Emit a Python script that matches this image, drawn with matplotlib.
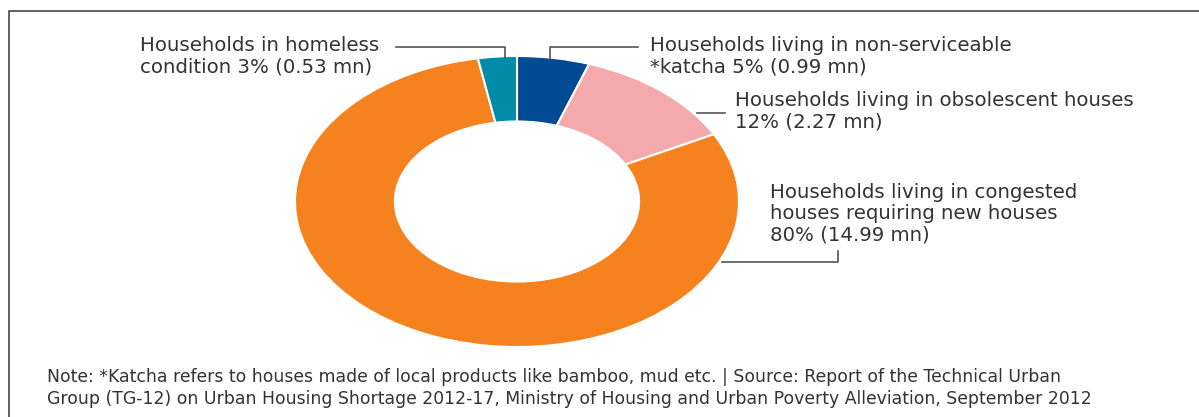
import matplotlib.pyplot as plt

# urban housing shortage 2012, million households
categories = ['non-serviceable katcha', 'obsolescent houses', 'congested houses', 'homeless']
values_mn = [0.99, 2.27, 14.99, 0.53]
colors = ['#004b93', '#f4a9ad', '#f5821f', '#008ba8']
labels = [
    'Households living in non-serviceable\n*katcha 5% (0.99 mn)',
    'Households living in obsolescent houses\n12% (2.27 mn)',
    'Households living in congested\nhouses requiring new houses\n80% (14.99 mn)',
    'Households in homeless\ncondition 3% (0.53 mn)',
]
note = ('Note: *Katcha refers to houses made of local products like bamboo, mud etc. | '
        'Source: Report of the Technical Urban\n'
        'Group (TG-12) on Urban Housing Shortage 2012-17, Ministry of Housing and Urban '
        'Poverty Alleviation, September 2012')

plt.rcParams['font.family'] = ['DejaVu Sans']
W, H = 1199, 417
fig = plt.figure(figsize=(W / 100, H / 100), dpi=100)

# donut, squashed into an ellipse like the original
ax = fig.add_axes([295 / W, 1 - 347 / H, 444 / W, 291 / H])
ax.pie(values_mn, colors=colors, startangle=90, counterclock=False, radius=1,
       wedgeprops=dict(width=0.45, edgecolor='white', linewidth=1.5))
ax.set_aspect('auto')
ax.set_xlim(-1, 1)
ax.set_ylim(-1, 1)
ax.axis('off')

# overlay in pixel coords for frame, leaders and text
ov = fig.add_axes([0, 0, 1, 1], facecolor='none')
ov.set_xlim(0, W)
ov.set_ylim(H, 0)
ov.axis('off')

line_kw = dict(color='#555555', lw=1.2)
ov.plot([9, 9, W], [H, 11, 11], color='#555555', lw=1.3)

leaders = [
    ([550, 550, 638], [58, 47, 47]),
    ([697, 725], [113, 113]),
    ([722, 838, 838], [262, 262, 251]),
    ([505, 505, 396], [58, 47, 47]),
]
text_pos = [(650, 36), (735, 91), (770, 183), (140, 36)]
for (xs, ys), (tx, ty), lab in zip(leaders, text_pos, labels):
    ov.plot(xs, ys, **line_kw)
    ov.text(tx, ty, lab, fontsize=14.2, color='#333333', va='top', ha='left',
            linespacing=1.16)

ov.text(47, 368, note, fontsize=12.4, color='#333333', va='top', ha='left',
        linespacing=1.27)

fig.savefig('out.png', dpi=100)
